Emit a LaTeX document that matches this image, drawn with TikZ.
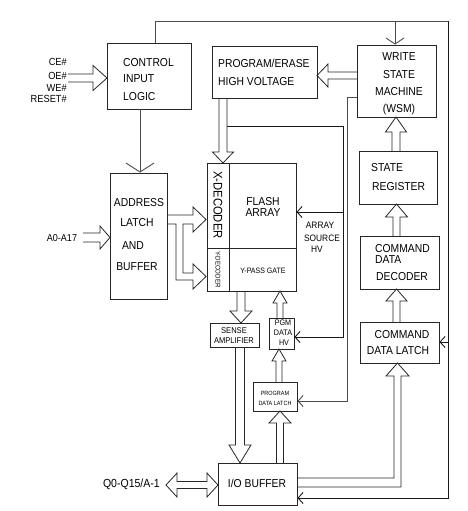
\documentclass[tikz,border=0pt]{standalone}
\usepackage{fontspec}
\setmainfont{Liberation Sans}[FakeStretch=0.9]
\usetikzlibrary{arrows.meta}
% vertical hollow arrow: x, base y, tip y, shaft half, head half, head length
\newcommand\fatV[6]{%
  \pgfmathsetmacro\yh{(#2<#3) ? (#3-#6) : (#3+#6)}%
  \draw[fat] ({#1-#4},#2) -- ({#1-#4},\yh) -- ({#1-#5},\yh) -- (#1,#3) -- ({#1+#5},\yh) -- ({#1+#4},\yh) -- ({#1+#4},#2);}
% horizontal hollow arrow: y, base x, tip x, shaft half, head half, head length
\newcommand\fatH[6]{%
  \pgfmathsetmacro\xh{(#2<#3) ? (#3-#6) : (#3+#6)}%
  \draw[fat] (#2,{#1-#4}) -- (\xh,{#1-#4}) -- (\xh,{#1-#5}) -- (#3,#1) -- (\xh,{#1+#5}) -- (\xh,{#1+#4}) -- (#2,{#1+#4});}
\newcommand\mkbox[5]{\node[box, minimum width={(#4-#2)*1pt}, minimum height={(#5-#3)*1pt}] (#1) at ({(#2+#4)/2},{(#3+#5)/2}) {};}
\begin{document}
\begin{tikzpicture}[x=1pt,y=-1pt,
  box/.style={draw=black!85, line width=0.9pt, inner sep=0pt, rectangle},
  conn/.style={draw=black!70, line width=0.9pt},
  blk/.style={draw=black!90, line width=0.9pt},
  tip/.style={-{Straight Barb[length=5pt,width=11pt]}},
  fat/.style={draw=black!85, line width=0.8pt, line join=miter},
  lbl/.style={inner sep=0pt, font=\fontsize{11.5}{13}\selectfont},
  sml/.style={inner sep=0pt, font=\fontsize{#1}{#1}\selectfont}]
\useasboundingbox (0,0) rectangle (467,511);

% ---------- boxes ----------
\mkbox{cil}{107}{43}{191}{109}
\mkbox{pehv}{212}{46}{317}{98}
\mkbox{wsm}{357}{45}{436}{117}
\mkbox{sr}{359}{151}{437}{204}
\mkbox{cdd}{360}{236}{439}{289}
\mkbox{cdl}{360}{322}{439}{363}
\mkbox{alb}{110}{173}{167}{299}
\mkbox{fa}{207}{163}{296}{291}
\mkbox{sa}{210}{323}{259}{347}
\mkbox{pgm}{269}{318}{294}{349}
\mkbox{pdl}{253}{382}{297}{411}
\mkbox{iob}{218}{463}{297}{505}
\draw[box] (229,163) -- (229,291);
\draw[box] (207,248) -- (296,248);

% ---------- texts ----------
\node[lbl, anchor=base west] (t-cil1) at (123,66.1) {CONTROL};
\node[lbl, anchor=base west] (t-cil2) at (123,82.1) {INPUT};
\node[lbl, anchor=base west] (t-cil3) at (123,100.1) {LOGIC};
\node[lbl, anchor=base west] (t-pe1) at (218,67.1) {PROGRAM/ERASE};
\node[lbl, anchor=base west] (t-pe2) at (218,85.1) {HIGH VOLTAGE};
\node[lbl, anchor=base] (t-w1) at (399,60.1) {WRITE};
\node[lbl, anchor=base] (t-w2) at (399,78.1) {STATE};
\node[lbl, anchor=base] (t-w3) at (399,95.1) {MACHINE};
\node[lbl, anchor=base] (t-w4) at (399,112.1) {(WSM)};
\node[lbl, anchor=base west] (t-sr1) at (371,171.1) {STATE};
\node[lbl, anchor=base west] (t-sr2) at (372,190.1) {REGISTER};
\node[lbl, anchor=base west] (t-cd1) at (375,252.1) {COMMAND};
\node[lbl, anchor=base west] (t-cd2) at (375,263.1) {DATA};
\node[lbl, anchor=base west] (t-cd3) at (376,280.1) {DECODER};
\node[lbl, anchor=base] (t-cl1) at (402,338.1) {COMMAND};
\node[lbl, anchor=base] (t-cl2) at (398,354.1) {DATA LATCH};
\node[lbl, anchor=base] (t-al1) at (139,206.1) {ADDRESS};
\node[lbl, anchor=base] (t-al2) at (137,226.1) {LATCH};
\node[lbl, anchor=base] (t-al3) at (133,249.1) {AND};
\node[lbl, anchor=base] (t-al4) at (137,270.1) {BUFFER};
\node[lbl, anchor=base] (t-fa1) at (263,205.1) {FLASH};
\node[lbl, anchor=base] (t-fa2) at (263,216.1) {ARRAY};
\node[sml=7.8, anchor=base] (t-yp) at (263,273.8) {Y-PASS GATE};
\node[inner sep=0pt, font=\fontsize{12.5}{13}\selectfont, rotate=-90] (t-xd) at (218,205) {X-DECODER};
\node[sml=6.8, rotate=-90] (t-yd) at (218,269.5) {Y-DECODER};
\node[lbl, anchor=base] (t-io) at (257,487.1) {I/O BUFFER};
\node[sml=9.3, anchor=base] (t-as1) at (320,228.3) {ARRAY};
\node[sml=9.3, anchor=base] (t-as2) at (322,241.3) {SOURCE};
\node[sml=9.3, anchor=base] (t-as3) at (317,252.3) {HV};
\node[sml=8.4, anchor=base] (t-sa1) at (234,333) {SENSE};
\node[sml=8.4, anchor=base] (t-sa2) at (234,343) {AMPLIFIER};
\node[sml=8, anchor=base] (t-pg1) at (283,325.9) {PGM};
\node[sml=8, anchor=base] (t-pg2) at (283,335.9) {DATA};
\node[sml=8, anchor=base] (t-pg3) at (284,345.9) {HV};
\node[sml=6.1, anchor=base] (t-pd1) at (275,395.2) {PROGRAM};
\node[sml=6.1, anchor=base] (t-pd2) at (275,405.2) {DATA LATCH};
\node[sml=10.3, anchor=base east] (t-ce) at (67,65.7) {CE\#};
\node[sml=10.3, anchor=base east] (t-oe) at (67,79.7) {OE\#};
\node[sml=10.3, anchor=base east] (t-we) at (67,91.7) {WE\#};
\node[sml=10.3, anchor=base east] (t-rs) at (67,102.7) {RESET\#};
\node[sml=10, anchor=base] (t-a) at (62,241.6) {A0-A17};
\node[sml=11.7, anchor=base east] (t-q) at (160,487.2) {Q0-Q15/A-1};

% ---------- thin connectors ----------
\coordinate (t1) at (155,21);
\coordinate (t2) at (448,21);
\coordinate (t3) at (448,498);
\coordinate (w1) at (395,21);
\coordinate (r1) at (448,342);
\coordinate (a1) at (140,109);
\coordinate (m1) at (347,97);
\coordinate (m2) at (347,401);
\coordinate (h1) at (227,126);
\coordinate (h2) at (343,126);
\coordinate (h3) at (343,337);
\coordinate (h4) at (343,212);
\draw[conn] (t1 |- cil.north) -- (t1) -- (t2);
\draw[blk, tip] (t2) -- (t3) -- (t3 -| iob.east);
\draw[conn, -{Straight Barb[length=6pt,width=18pt]}] (w1) -- (w1 |- wsm.north);
\draw[blk, tip] (r1) -- (r1 -| cdl.east);
\draw[conn, -{Straight Barb[length=9pt,width=28pt]}] (a1) -- (a1 |- alb.north);
\draw[conn, tip] (m1 -| wsm.west) -- (m1) -- (m2) -- (m2 -| pdl.east);
\draw[blk, tip] (h1) -- (h2) -- (h3) -- (h3 -| pgm.east);
\draw[blk, tip] (h4) -- (h4 -| fa.east);

% ---------- hollow arrows ----------
\fatH{78}{68}{107}{4}{12.5}{14}
\fatH{75.5}{357}{317}{3.5}{11.5}{11}
\fatV{396}{151}{117}{4}{10.5}{15}
\fatV{396.5}{236}{204}{3.5}{11}{13}
\fatV{396.5}{322}{289}{3.5}{10.5}{12}
\fatH{237.5}{83}{110}{4.5}{11.5}{10}
\fatV{223}{98}{163}{4}{10.5}{11}
\fatV{241}{291}{323}{4}{11}{12}
\fatV{240}{347}{463}{4.5}{11}{18}
\fatV{280}{318}{291}{3}{7}{12}
\fatV{279}{382}{349}{3}{7}{12}
\fatV{280}{463}{411}{3.5}{11}{12}
% address latch to X/Y decoders
\draw[fat] (167,215) -- (193,215) -- (193,207) -- (206,219.5) -- (193,232) -- (193,224) -- (183,224)
  -- (183,273) -- (193,273) -- (193,264) -- (206,276.5) -- (193,289) -- (193,280) -- (176,280) -- (176,224) -- (167,224);
% I/O buffer to command data latch
\draw[fat] (297,478) -- (394,478) -- (394,376) -- (386,376) -- (397.5,363) -- (409,376) -- (401,376) -- (401,487) -- (297,487);
% bidirectional data bus
\draw[fat] (177,481.5) -- (207,481.5) -- (207,473) -- (218,485) -- (207,497) -- (207,488.5) -- (177,488.5) -- (177,497) -- (166,485) -- (177,473) -- cycle;
\end{tikzpicture}
\end{document}
